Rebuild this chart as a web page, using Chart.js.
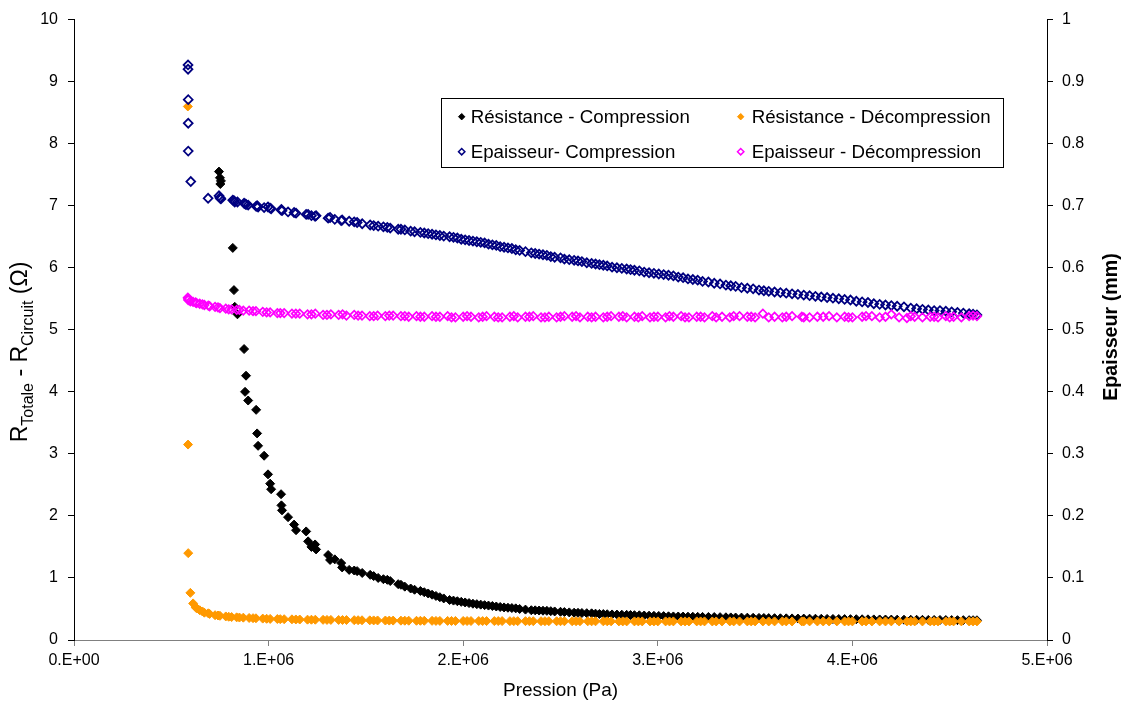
<!DOCTYPE html>
<html>
<head>
<meta charset="utf-8">
<title>Résistance / Epaisseur vs Pression</title>
<script src="https://cdn.jsdelivr.net/npm/chart.js@4.4.1/dist/chart.umd.min.js"></script>
<style>
  html, body { margin: 0; padding: 0; background: #fff; }
  #wrap { width: 1124px; height: 706px; }
</style>
</head>
<body>
<div id="wrap"><canvas id="chart" width="1124" height="706"></canvas></div>
<script>
// pression en MPa (x 1e6 Pa) - compression : meme pression pour R et epaisseur
const pComp = [
  0.586, 0.586, 0.587, 0.587, 0.587, 0.600, 0.689, 0.745, 0.750, 0.752,
  0.755, 0.816, 0.822, 0.826, 0.840, 0.874, 0.879, 0.884, 0.895, 0.936,
  0.941, 0.946, 0.977, 0.997, 1.008, 1.013, 1.064, 1.066, 1.069, 1.100,
  1.131, 1.141, 1.193, 1.203, 1.239, 1.244, 1.306, 1.316, 1.373, 1.378,
  1.414, 1.455, 1.481, 1.522, 1.563, 1.590, 1.625, 1.666, 1.700, 1.750,
  1.780, 1.820, 1.860, 1.900, 1.930, 1.970, 2.010, 2.050, 2.090, 2.130,
  2.170, 2.210, 2.250, 2.290, 2.350, 2.390, 2.430, 2.470, 2.520, 2.570,
  2.610, 2.660, 2.700, 2.740, 2.790, 2.840, 2.880, 2.930, 2.980, 3.030,
  3.080, 3.130, 3.180, 3.230, 3.290, 3.350, 3.400, 3.460, 3.520, 3.570,
  3.630, 3.690, 3.750, 3.810, 3.870, 3.930, 3.990, 4.050, 4.110, 4.170,
  4.230, 4.300, 4.360, 4.420, 4.480, 4.540, 4.600, 4.640,
  1.220, 1.340, 1.440, 1.540, 1.610, 1.680, 1.730, 1.800, 1.840, 1.880,
  1.950, 1.990, 2.030, 2.070, 2.110, 2.150, 2.190, 2.230, 2.270, 2.320,
  2.370, 2.410, 2.450, 2.500, 2.545, 2.590, 2.635, 2.680, 2.720, 2.765,
  2.815, 2.860, 2.905, 2.955, 3.005, 3.055, 3.105, 3.155, 3.205, 3.260,
  3.320, 3.375, 3.430, 3.490, 3.545, 3.600, 3.660, 3.720, 3.780, 3.840,
  3.900, 3.960, 4.020, 4.080, 4.140, 4.200, 4.265, 4.330, 4.390, 4.450,
  4.510, 4.570, 4.620
];
// R totale - R circuit (ohm), null = hors echelle (> 10)
const rComp = [
  null, null, null, null, null, null, null, 7.55, 7.45, 7.35,
  7.40, 6.32, 5.64, 5.37, 5.25, 4.69, 4.00, 4.26, 3.86, 3.71,
  3.33, 3.13, 2.97, 2.67, 2.52, 2.43, 2.35, 2.17, 2.09, 1.98,
  1.86, 1.77, 1.75, 1.59, 1.54, 1.46, 1.37, 1.29, 1.24, 1.17,
  1.13, 1.11, 1.08, 1.05, 1.00, 0.98, 0.95, 0.90, 0.86, 0.81,
  0.79, 0.75, 0.71, 0.67, 0.645, 0.625, 0.605, 0.585, 0.57, 0.555,
  0.54, 0.525, 0.515, 0.50, 0.48, 0.475, 0.47, 0.46, 0.45, 0.44,
  0.435, 0.43, 0.42, 0.415, 0.41, 0.405, 0.40, 0.395, 0.39, 0.385,
  0.38, 0.378, 0.375, 0.372, 0.37, 0.366, 0.362, 0.36, 0.356, 0.353,
  0.35, 0.348, 0.345, 0.343, 0.34, 0.338, 0.336, 0.334, 0.332, 0.33,
  0.328, 0.326, 0.325, 0.323, 0.322, 0.32, 0.32, 0.318,
  1.50, 1.30, 1.12, 1.03, 0.97, 0.89, 0.83, 0.77, 0.73, 0.69,
  0.635, 0.615, 0.595, 0.578, 0.562, 0.548, 0.532, 0.52, 0.51, 0.49,
  0.478, 0.472, 0.465, 0.455, 0.445, 0.438, 0.432, 0.425, 0.418, 0.412,
  0.408, 0.402, 0.398, 0.392, 0.388, 0.382, 0.379, 0.376, 0.373, 0.371,
  0.368, 0.364, 0.361, 0.358, 0.355, 0.352, 0.349, 0.346, 0.344, 0.342,
  0.339, 0.337, 0.335, 0.333, 0.331, 0.329, 0.327, 0.326, 0.324, 0.323,
  0.321, 0.32, 0.319
];
// epaisseur (mm)
const eComp = [
  0.927, 0.920, 0.871, 0.833, 0.788, 0.739, 0.712, 0.716, 0.713, 0.712,
  0.711, 0.709, 0.708, 0.706, 0.706, 0.704, 0.703, 0.702, 0.701, 0.699,
  0.700, 0.698, 0.697, 0.698, 0.696, 0.695, 0.693, 0.694, 0.692, 0.690,
  0.689, 0.688, 0.686, 0.686, 0.683, 0.684, 0.680, 0.681, 0.676, 0.677,
  0.675, 0.673, 0.671, 0.669, 0.667, 0.666, 0.664, 0.662, 0.661, 0.658,
  0.657, 0.655, 0.653, 0.651, 0.650, 0.648, 0.645, 0.643, 0.641, 0.638,
  0.636, 0.633, 0.631, 0.628, 0.624, 0.622, 0.620, 0.617, 0.614, 0.612,
  0.610, 0.607, 0.605, 0.603, 0.600, 0.598, 0.596, 0.593, 0.591, 0.589,
  0.587, 0.584, 0.581, 0.578, 0.575, 0.572, 0.570, 0.567, 0.564, 0.562,
  0.560, 0.558, 0.556, 0.554, 0.552, 0.550, 0.548, 0.545, 0.542, 0.540,
  0.538, 0.535, 0.533, 0.531, 0.530, 0.528, 0.526, 0.524,
  0.684, 0.678, 0.674, 0.668, 0.665, 0.662, 0.659, 0.656, 0.654, 0.652,
  0.649, 0.646, 0.644, 0.642, 0.640, 0.637, 0.634, 0.632, 0.629, 0.626,
  0.623, 0.621, 0.618, 0.616, 0.613, 0.611, 0.608, 0.606, 0.604, 0.601,
  0.599, 0.597, 0.595, 0.592, 0.590, 0.588, 0.585, 0.582, 0.580, 0.577,
  0.574, 0.571, 0.568, 0.566, 0.563, 0.561, 0.559, 0.557, 0.555, 0.553,
  0.551, 0.549, 0.546, 0.544, 0.541, 0.539, 0.537, 0.534, 0.532, 0.531,
  0.529, 0.527, 0.525
];

// decompression
const pDecomp = [
  0.585, 0.586, 0.587, 0.598, 0.612, 0.625, 0.646, 0.670, 0.697, 0.725,
  0.750, 0.780, 0.810, 0.836, 0.870, 0.900, 0.935, 0.970, 1.008, 1.045,
  1.080, 1.120, 1.160, 1.200, 1.240, 1.280, 1.320, 1.360, 1.400, 1.440,
  1.480, 1.520, 1.560, 1.600, 1.640, 1.680, 1.720, 1.760, 1.800, 1.840,
  1.880, 1.920, 1.960, 2.000, 2.040, 2.080, 2.120, 2.160, 2.200, 2.240,
  2.280, 2.320, 2.360, 2.400, 2.440, 2.480, 2.520, 2.560, 2.600, 2.640,
  2.680, 2.720, 2.760, 2.800, 2.840, 2.880, 2.920, 2.960, 3.000, 3.040,
  3.080, 3.120, 3.160, 3.200, 3.240, 3.280, 3.330, 3.370, 3.420, 3.460,
  3.500, 3.540, 3.600, 3.640, 3.690, 3.740, 3.780, 3.820, 3.880, 3.920,
  3.960, 4.000, 4.050, 4.100, 4.140, 4.200, 4.240, 4.280, 4.320, 4.360,
  4.400, 4.440, 4.480, 4.520, 4.560, 4.600, 4.640,
  0.630, 0.660, 0.690, 0.740, 0.795, 0.850, 0.920, 0.990, 1.060, 1.140,
  1.220, 1.300, 1.380, 1.460, 1.540, 1.620, 1.700, 1.780, 1.860, 1.940,
  2.020, 2.100, 2.180, 2.260, 2.340, 2.420, 2.500, 2.580, 2.660, 2.740,
  2.820, 2.900, 2.980, 3.060, 3.140, 3.220, 3.300, 3.390, 3.480, 3.570,
  3.660, 3.750, 3.850, 3.980, 4.070, 4.170, 4.300, 4.420, 4.500, 4.620
];
const rDecomp = [
  8.60, 3.15, 1.40, 0.76, 0.59, 0.53, 0.48, 0.44, 0.42, 0.40,
  0.39, 0.38, 0.37, 0.365, 0.36, 0.355, 0.35, 0.345, 0.34, 0.338,
  0.335, 0.333, 0.33, 0.328, 0.327, 0.325, 0.324, 0.323, 0.322, 0.32,
  0.318, 0.317, 0.315, 0.314, 0.313, 0.312, 0.311, 0.31, 0.31, 0.309,
  0.308, 0.308, 0.307, 0.307, 0.306, 0.306, 0.305, 0.305, 0.305, 0.304,
  0.304, 0.304, 0.303, 0.303, 0.303, 0.302, 0.302, 0.302, 0.302, 0.301,
  0.301, 0.301, 0.301, 0.300, 0.300, 0.300, 0.300, 0.300, 0.300, 0.300,
  0.300, 0.300, 0.299, 0.300, 0.300, 0.299, 0.300, 0.300, 0.299, 0.300,
  0.300, 0.299, 0.300, 0.300, 0.299, 0.300, 0.300, 0.299, 0.300, 0.300,
  0.299, 0.300, 0.300, 0.299, 0.300, 0.300, 0.299, 0.300, 0.300, 0.299,
  0.300, 0.300, 0.299, 0.300, 0.300, 0.299, 0.300,
  0.51, 0.46, 0.43, 0.395, 0.375, 0.362, 0.352, 0.342, 0.336, 0.331,
  0.327, 0.324, 0.322, 0.319, 0.316, 0.313, 0.311, 0.31, 0.308, 0.307,
  0.306, 0.305, 0.305, 0.304, 0.303, 0.303, 0.302, 0.302, 0.301, 0.301,
  0.300, 0.300, 0.300, 0.299, 0.300, 0.300, 0.299, 0.300, 0.300, 0.299,
  0.300, 0.300, 0.299, 0.300, 0.300, 0.299, 0.300, 0.300, 0.299, 0.300
];
const eDecomp = [
  0.552, 0.550, 0.548, 0.546, 0.545, 0.544, 0.542, 0.540, 0.538, 0.537,
  0.535, 0.534, 0.533, 0.532, 0.531, 0.531, 0.530, 0.529, 0.528, 0.527,
  0.527, 0.526, 0.526, 0.525, 0.526, 0.524, 0.525, 0.524, 0.523, 0.524,
  0.523, 0.522, 0.523, 0.522, 0.523, 0.522, 0.521, 0.522, 0.521, 0.522,
  0.521, 0.522, 0.520, 0.521, 0.521, 0.520, 0.522, 0.521, 0.520, 0.521,
  0.520, 0.521, 0.522, 0.520, 0.521, 0.520, 0.522, 0.521, 0.520, 0.521,
  0.521, 0.520, 0.522, 0.521, 0.520, 0.521, 0.522, 0.520, 0.521, 0.520,
  0.521, 0.522, 0.520, 0.521, 0.520, 0.522, 0.521, 0.520, 0.522, 0.521,
  0.520, 0.526, 0.521, 0.520, 0.522, 0.521, 0.520, 0.521, 0.522, 0.520,
  0.521, 0.520, 0.521, 0.522, 0.520, 0.525, 0.520, 0.519, 0.521, 0.520,
  0.521, 0.520, 0.522, 0.521, 0.520, 0.522, 0.522,
  0.543, 0.541, 0.539, 0.536, 0.533, 0.532, 0.530, 0.528, 0.527, 0.526,
  0.525, 0.524, 0.525, 0.523, 0.522, 0.523, 0.522, 0.521, 0.521, 0.520,
  0.522, 0.521, 0.520, 0.522, 0.521, 0.520, 0.521, 0.522, 0.520, 0.521,
  0.522, 0.520, 0.521, 0.522, 0.520, 0.521, 0.520, 0.522, 0.521, 0.520,
  0.521, 0.520, 0.521, 0.520, 0.522, 0.521, 0.522, 0.521, 0.520, 0.523
];

const xTicks = [0, 1e6, 2e6, 3e6, 4e6, 5e6];
const FONT = "'Liberation Sans', Arial, sans-serif";

function pts(ps, vs) {
  return ps.map((p, i) => ({ x: p * 1e6, y: vs[i] }));
}

// 0 -> 0.E+00, 1000000 -> 1.E+06
function sci(v) {
  if (v === 0) return '0.E+00';
  const e = Math.floor(Math.log10(v));
  const m = Math.round(v / Math.pow(10, e));
  return m + '.E+' + String(e).padStart(2, '0');
}

const series = [
  { label: 'Résistance - Compression', data: pts(pComp, rComp), axis: 'y',
    fill: '#000000', stroke: '#000000', radius: 4.5, bw: 1, order: 4 },
  { label: 'Résistance - Décompression', data: pts(pDecomp, rDecomp), axis: 'y',
    fill: '#FF9900', stroke: '#FF9900', radius: 4.5, bw: 1, order: 3 },
  { label: 'Epaisseur- Compression', data: pts(pComp, eComp), axis: 'y1',
    fill: 'rgba(0,0,0,0)', stroke: '#000080', radius: 4.4, bw: 1.8, order: 2 },
  { label: 'Epaisseur - Décompression', data: pts(pDecomp, eDecomp), axis: 'y1',
    fill: 'rgba(0,0,0,0)', stroke: '#FF00FF', radius: 4.2, bw: 1.7, order: 1 }
];

function diamond(ctx, x, y, r, fill, stroke, bw) {
  ctx.beginPath();
  ctx.moveTo(x - r, y);
  ctx.lineTo(x, y - r);
  ctx.lineTo(x + r, y);
  ctx.lineTo(x, y + r);
  ctx.closePath();
  ctx.fillStyle = fill;
  ctx.fill();
  ctx.lineWidth = bw;
  ctx.strokeStyle = stroke;
  ctx.stroke();
}

// legende dans le graphe + titres des axes Y (indices)
const overlay = {
  id: 'overlay',
  afterDraw(chart) {
    const ctx = chart.ctx;
    ctx.save();

    // legende
    ctx.fillStyle = '#fff';
    ctx.fillRect(441.5, 98.5, 562, 69);
    ctx.strokeStyle = '#000';
    ctx.lineWidth = 1;
    ctx.strokeRect(441.5, 98.5, 562, 69);
    const cols = [[461.7, 470.7], [740.7, 751.7]];
    const rows = [116.7, 151.7];
    const slots = [[0, 0], [1, 0], [0, 1], [1, 1]];
    ctx.font = '18.7px ' + FONT;
    ctx.textBaseline = 'middle';
    ctx.textAlign = 'left';
    series.forEach((s, i) => {
      const c = cols[slots[i][0]];
      const y = rows[slots[i][1]];
      diamond(ctx, c[0], y, 3.2, s.fill, s.stroke, Math.min(s.bw, 1.5));
      ctx.fillStyle = '#000';
      ctx.fillText(s.label, c[1], y + 1);
    });

    // titre axe gauche : R_Totale - R_Circuit (Ω)
    const parts = [['R', 23, 0], ['Totale', 16, 6], [' - R', 23, 0], ['Circuit', 16, 6], [' (Ω)', 23, 0]];
    let total = 0;
    parts.forEach(p => { ctx.font = p[1] + 'px ' + FONT; total += ctx.measureText(p[0]).width; });
    ctx.save();
    ctx.translate(27, 352);
    ctx.rotate(-Math.PI / 2);
    ctx.textBaseline = 'alphabetic';
    ctx.fillStyle = '#000';
    let x = -total / 2;
    parts.forEach(p => {
      ctx.font = p[1] + 'px ' + FONT;
      ctx.fillText(p[0], x, p[2]);
      x += ctx.measureText(p[0]).width;
    });
    ctx.restore();

    // titre axe droit
    ctx.save();
    ctx.translate(1117, 327);
    ctx.rotate(-Math.PI / 2);
    ctx.font = 'bold 19.7px ' + FONT;
    ctx.textAlign = 'center';
    ctx.textBaseline = 'alphabetic';
    ctx.fillStyle = '#000';
    ctx.fillText('Epaisseur (mm)', 0, 0);
    ctx.restore();

    ctx.restore();
  }
};

Chart.defaults.font.family = FONT;
Chart.defaults.color = '#000';

new Chart(document.getElementById('chart'), {
  type: 'scatter',
  data: {
    datasets: series.map(s => ({
      label: s.label,
      data: s.data,
      yAxisID: s.axis,
      order: s.order,
      pointStyle: 'rectRot',
      pointRadius: s.radius,
      pointBorderWidth: s.bw,
      pointBackgroundColor: s.fill,
      pointBorderColor: s.stroke,
      showLine: false
    }))
  },
  options: {
    responsive: false,
    animation: false,
    devicePixelRatio: 1,
    layout: { padding: { top: 18, left: 0, right: 0, bottom: 0 } },
    plugins: { legend: { display: false }, tooltip: { enabled: false } },
    scales: {
      x: {
        type: 'linear',
        min: 0,
        max: 5e6,
        afterBuildTicks: axis => { axis.ticks = xTicks.map(v => ({ value: v })); },
        afterFit: axis => { axis.height = 66; },
        ticks: { callback: v => sci(v), font: { size: 16 }, padding: 5, maxRotation: 0, color: '#000' },
        grid: { drawOnChartArea: false, tickLength: 6, color: '#808080' },
        border: { color: '#808080', width: 1 },
        title: { display: true, text: 'Pression (Pa)', font: { size: 19 }, color: '#000',
                 padding: { top: 2, bottom: 4 } }
      },
      y: {
        position: 'left',
        min: 0,
        max: 10,
        afterFit: axis => { axis.width = 74; },
        ticks: { stepSize: 1, font: { size: 16 }, padding: 10, color: '#000' },
        grid: { drawOnChartArea: false, tickLength: 6, color: '#000' },
        border: { color: '#000', width: 1 }
      },
      y1: {
        position: 'right',
        min: 0,
        max: 1,
        afterFit: axis => { axis.width = 77; },
        ticks: { stepSize: 0.1, font: { size: 16 }, padding: 9, color: '#000',
                 callback: v => String(Math.round(v * 10) / 10) },
        grid: { drawOnChartArea: false, tickLength: 6, color: '#000' },
        border: { color: '#000', width: 1 }
      }
    }
  },
  plugins: [overlay]
});
</script>
</body>
</html>
